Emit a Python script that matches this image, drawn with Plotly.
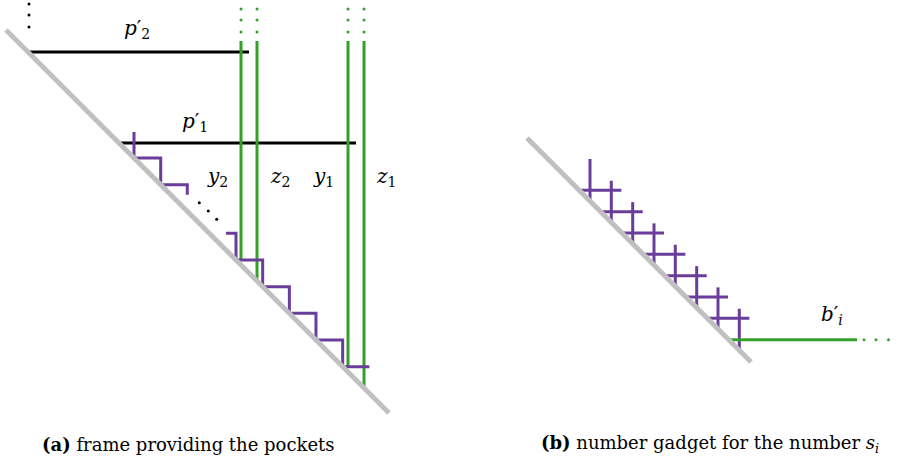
import plotly.graph_objects as go

# ---- colours and pen widths ----
GRAY = "#c0c0c0"
PURPLE = "#6a3d9a"
GREEN = "#33a02c"
BLACK = "#000000"

# ---- panel (a): frame providing the pockets ----
diag_a = [(6, 30), (389, 413)]          # boundary diagonal, y = x + 24
diag_a_offset = 24
pocket_bars = {"p2": (52, 30, 249), "p1": (143, 121, 356)}   # y, x_start, x_end
green_x = [241, 257, 348, 364]          # y2, z2, y1, z1 columns
green_top = 41
green_bottom = [260, 281, 366, 388]
green_dots_y = [9, 20, 32]
step_a = 26.67
stairs_upper_x = [134, 160.7, 187.3]    # diagonal corners of the upper staircase
stairs_lower_x = [236, 262.7, 289.3, 316, 342.7]  # diagonal corners of the lower staircase
top_dots = [(29, 4), (29, 15), (29, 27)]
mid_dots = [(199.3, 202.7), (208.3, 211), (216.7, 219.3)]

# ---- panel (b): number gadget ----
diag_b = [(527, 138), (751, 362)]       # y = x - 389
diag_b_offset = -389
cross_x = [590, 611.3, 632.7, 654, 675.3, 696.7, 718, 739.3]
cross_y = [190.3, 211.7, 233, 254.3, 275.7, 297, 318.3, 339.7]
first_top = 159
b_end = 857
b_dots_x = [864, 876, 888.5]

fig = go.Figure()


def add_path(xs, ys, color, width):
    fig.add_trace(go.Scatter(x=xs, y=ys, mode="lines", hoverinfo="skip",
                             line=dict(color=color, width=width)))


def add_dots(pts, color, size):
    fig.add_trace(go.Scatter(x=[p[0] for p in pts], y=[p[1] for p in pts],
                             mode="markers", hoverinfo="skip",
                             marker=dict(color=color, size=size, line=dict(width=0))))


# black pocket bars
for y, x0, x1 in pocket_bars.values():
    add_path([x0, x1], [y, y], BLACK, 3)

# green columns and their continuation dots
for x, bot in zip(green_x, green_bottom):
    add_path([x, x], [green_top, bot], GREEN, 3)
add_dots([(x, y) for x in green_x for y in green_dots_y], GREEN, 3)

# purple staircases along the diagonal
ux, uy = [stairs_upper_x[0]], [132]
for i, x in enumerate(stairs_upper_x[:-1]):
    y = x + diag_a_offset
    ux += [x, stairs_upper_x[i + 1]]
    uy += [y, y]
    ux.append(stairs_upper_x[i + 1])
    uy.append(stairs_upper_x[i + 1] + diag_a_offset)
ux[-1], uy[-1] = stairs_upper_x[-1], stairs_upper_x[-2] + diag_a_offset + 10
add_path(ux, uy, PURPLE, 3)

lx = [226, stairs_lower_x[0]]
ly = [stairs_lower_x[0] + diag_a_offset - step_a] * 2
for x in stairs_lower_x:
    y = x + diag_a_offset
    lx += [x, x + step_a]
    ly += [y, y]
    if x != stairs_lower_x[-1]:
        lx.append(x + step_a)
        ly.append(x + step_a + diag_a_offset)
add_path(lx, ly, PURPLE, 3)

add_dots(top_dots, BLACK, 3)
add_dots(mid_dots, BLACK, 3)

# panel (b) crosses
for k, x in enumerate(cross_x):
    top = first_top if k == 0 else cross_y[k - 1] - 9.6
    add_path([x, x], [top, x + diag_b_offset], PURPLE, 3)
for k, y in enumerate(cross_y[:-1]):
    add_path([y - diag_b_offset, cross_x[k + 1] + 10], [y, y], PURPLE, 3)
add_path([cross_y[-1] - diag_b_offset, b_end], [cross_y[-1]] * 2, GREEN, 3)
add_dots([(x, cross_y[-1]) for x in b_dots_x], GREEN, 3)

# gray diagonals on top
add_path([p[0] for p in diag_a], [p[1] for p in diag_a], GRAY, 5)
add_path([p[0] for p in diag_b], [p[1] for p in diag_b], GRAY, 5)

MATH = dict(family="DejaVu Serif", size=20, color="black")
labels = [
    (137, 29, "<i>p</i>′<sub>2</sub>"),
    (195, 122, "<i>p</i>′<sub>1</sub>"),
    (217, 177, "<i>y</i><sub>2</sub>"),
    (280, 177, "<i>z</i><sub>2</sub>"),
    (323, 177, "<i>y</i><sub>1</sub>"),
    (386, 177, "<i>z</i><sub>1</sub>"),
    (832, 315, "<i>b</i>′<sub><i>i</i></sub>"),
]
for x, y, t in labels:
    fig.add_annotation(x=x, y=y, text=t, showarrow=False, font=MATH,
                       xanchor="center", yanchor="middle")

CAP = dict(family="DejaVu Serif", size=18, color="black")
fig.add_annotation(x=188.5, y=444, text="<b>(a)</b> frame providing the pockets",
                   showarrow=False, font=CAP, xanchor="center", yanchor="middle")
fig.add_annotation(x=710, y=444, text="<b>(b)</b> number gadget for the number <i>s<sub>i</sub></i>",
                   showarrow=False, font=CAP, xanchor="center", yanchor="middle")

fig.update_layout(
    width=898, height=463, margin=dict(l=0, r=0, t=0, b=0),
    paper_bgcolor="white", plot_bgcolor="white", showlegend=False,
    xaxis=dict(range=[0, 898], visible=False, fixedrange=True),
    yaxis=dict(range=[463, 0], visible=False, fixedrange=True),
)
fig.write_html("out.html")
